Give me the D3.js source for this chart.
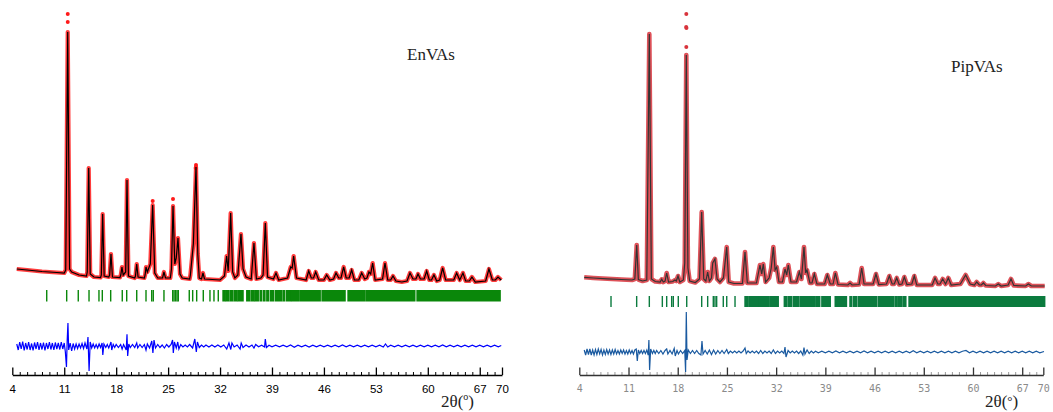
<!DOCTYPE html>
<html>
<head>
<meta charset="utf-8">
<script src="https://cdn.jsdelivr.net/npm/d3@7"></script>
<style>
  body { margin: 0; background: #fff; }
</style>
</head>
<body>
<div id="chart"></div>
<script>
// ---- data (2theta in degrees, intensity in counts) ----
var tickValues = [4, 11, 18, 25, 32, 39, 46, 53, 60, 67, 70];

// EnVAs: calculated profile
var enCalc = [[4.6,150],[6,140],[8,125],[10,115],[11.0,110],[11.2,140],[11.47,2520],[11.72,150],[12.0,120],[13.0,90],[14.0,80],[14.1,120],[14.30,1160],[14.5,100],[15.0,70],[15.9,65],[16.0,90],[16.18,700],[16.38,80],[17.0,70],[17.12,90],[17.30,300],[17.5,70],[18.5,65],[18.62,90],[18.78,170],[18.95,90],[19.28,120],[19.46,1040],[19.65,80],[20.5,60],[20.6,80],[20.77,200],[20.95,70],[21.8,60],[21.9,90],[22.02,170],[22.2,120],[22.6,200],[22.92,790],[23.2,110],[23.6,60],[24.25,60],[24.44,120],[24.65,60],[25.3,60],[25.45,150],[25.66,780],[25.9,200],[26.1,260],[26.33,460],[26.6,100],[26.9,60],[27.9,50],[28.0,90],[28.4,400],[28.76,1170],[29.0,300],[29.2,60],[29.5,50],[29.70,110],[29.9,50],[32.0,40],[32.6,80],[32.89,280],[33.1,130],[33.43,710],[33.7,120],[34.0,60],[34.4,90],[34.82,500],[35.1,150],[35.5,70],[36.2,50],[36.57,410],[36.9,50],[37.5,60],[37.8,90],[38.10,610],[38.4,70],[39.2,50],[39.54,110],[39.9,40],[41.1,60],[41.52,170],[41.72,160],[41.92,280],[42.3,60],[43.6,40],[43.95,130],[44.3,60],[44.6,60],[44.89,120],[45.3,40],[46.0,40],[46.37,90],[46.8,40],[47.3,50],[47.63,110],[48.0,60],[48.3,60],[48.66,170],[49.0,60],[49.4,60],[49.74,140],[50.1,40],[50.7,40],[51.09,110],[51.5,50],[51.8,60],[52.07,120],[52.3,100],[52.57,210],[52.9,40],[53.9,50],[54.23,210],[54.6,40],[55.0,40],[55.31,80],[55.7,30],[56.5,20],[57.2,30],[57.60,110],[58.0,50],[58.4,50],[58.68,100],[59.0,50],[59.5,50],[59.85,130],[60.2,40],[60.5,40],[60.83,90],[61.2,30],[61.6,40],[62.0,160],[62.4,40],[63.5,40],[63.89,110],[64.3,40],[64.74,110],[65.1,30],[65.6,30],[65.95,70],[66.4,20],[67.8,30],[68.24,150],[68.7,40],[69.1,40],[69.46,70],[69.9,40]];
// EnVAs: observed points that stand clear of the calculated line
var enObsTop = [[11.47,2700],[11.47,2620],[22.92,830],[25.66,850],[28.76,1190],[28.72,1160]];
// EnVAs: difference curve
var enDiff = [[4.6,20],[4.8,-40],[5.0,40],[5.2,-30],[5.4,45],[5.6,-45],[5.8,30],[6.0,-35],[6.2,40],[6.4,-40],[6.6,25],[6.8,-45],[7.0,35],[7.2,-30],[7.4,40],[7.6,-40],[7.8,30],[8.0,-35],[8.2,35],[8.4,-45],[8.6,30],[8.8,-30],[9.0,40],[9.2,-35],[9.4,30],[9.6,-40],[9.8,35],[10.0,-30],[10.2,30],[10.4,-35],[10.6,40],[10.8,-30],[11.0,30],[11.15,-60],[11.3,-210],[11.4,60],[11.5,230],[11.6,-40],[11.8,30],[12.0,-50],[12.2,25],[12.4,-30],[12.6,20],[12.8,-25],[13.0,20],[13.2,-20],[13.4,25],[13.6,-25],[13.8,30],[14.05,-30],[14.2,90],[14.35,-250],[14.5,40],[14.7,-20],[14.9,20],[15.1,-20],[15.3,15],[15.5,-20],[15.7,20],[15.9,-15],[16.1,30],[16.2,-90],[16.35,20],[16.6,-15],[16.8,15],[17.0,-20],[17.3,40],[17.4,-40],[17.6,15],[17.8,-15],[18.0,15],[18.3,-15],[18.6,15],[18.8,-30],[19.0,15],[19.35,-40],[19.46,117],[19.55,-100],[19.7,20],[19.9,-15],[20.2,15],[20.5,-15],[20.77,30],[20.9,-20],[21.2,15],[21.5,-15],[21.8,15],[22.02,-40],[22.2,20],[22.5,-20],[22.8,50],[22.95,-70],[23.1,60],[23.3,-20],[23.6,15],[23.9,-15],[24.2,10],[24.5,-20],[24.8,15],[25.1,-10],[25.4,15],[25.6,60],[25.7,-70],[25.85,40],[26.1,-20],[26.3,40],[26.45,-30],[26.7,15],[27.0,-10],[27.3,10],[27.6,-10],[27.9,15],[28.3,-20],[28.6,70],[28.8,-60],[28.95,40],[29.2,-15],[29.5,10],[29.8,-10],[30.1,10],[30.5,-10],[30.9,10],[31.3,-10],[31.7,10],[32.1,-10],[32.5,10],[32.9,-30],[33.2,30],[33.45,-35],[33.6,30],[33.9,-10],[34.3,10],[34.7,-30],[34.85,30],[35.1,-15],[35.5,10],[35.9,-10],[36.3,10],[36.57,-20],[36.8,15],[37.2,-8],[37.6,8],[38.0,-10],[38.1,70],[38.25,-15],[38.6,8],[39.0,-8],[39.5,8],[40.0,-8],[40.5,8],[41.0,-8],[41.5,10],[42.0,-12],[42.5,8],[43.0,-8],[43.5,8],[44.0,-10],[44.5,8],[45.0,-8],[45.5,8],[46.0,-8],[46.5,8],[47.0,-8],[47.5,8],[48.0,-8],[48.5,10],[49.0,-8],[49.5,8],[50.0,-8],[50.5,8],[51.0,-8],[51.5,8],[52.0,-8],[52.5,8],[53.0,-8],[53.5,8],[54.0,-10],[54.3,20],[54.6,-10],[55.0,8],[55.5,-8],[56.0,8],[56.5,-8],[57.0,8],[57.5,-8],[58.0,8],[58.5,-8],[59.0,8],[59.5,-8],[60.0,8],[60.5,-8],[61.0,8],[61.5,-8],[62.0,10],[62.5,-8],[63.0,8],[63.5,-8],[64.0,8],[64.5,-8],[65.0,8],[65.5,-8],[66.0,8],[66.5,-8],[67.0,8],[67.5,-8],[68.0,8],[68.5,-8],[69.0,8],[69.5,-8],[69.9,5]];
// EnVAs: Bragg reflections (single lines and dense groups)
var enRefl = [8.64,11.33,12.89,14.34,15.68,16.13,17.26,18.82,19.42,20.77,22.02,22.79,23.0,24.44,25.62,25.8,26.0,26.2,26.37,27.85,28.31,28.85,29.74,30.64,31.18,31.76];
var enReflGroups = [[32.4,32.7],[32.85,33.2],[33.4,33.7],[33.9,34.3],[34.45,35.1],[35.6,36.0],[36.2,36.6],[36.75,37.15],[37.4,37.6],[37.85,38.05],[38.3,38.55],[38.8,39.2],[39.45,40.3],[40.5,40.7],[40.95,41.5],[41.65,42.55],[42.75,45.5],[45.75,48.85],[49.25,51.55],[51.75,58.25],[58.55,69.75]];

// PipVAs: calculated profile
var pipCalc = [[4.7,107],[6,100],[8,92],[10,85],[11.5,80],[11.9,90],[12.17,430],[12.4,85],[13.0,70],[13.6,80],[13.96,2540],[14.25,90],[14.8,65],[15.5,60],[15.72,87],[15.95,60],[16.2,70],[16.43,150],[16.7,60],[17.3,65],[17.6,80],[17.8,70],[18.04,120],[18.3,60],[18.8,80],[19.0,250],[19.22,2330],[19.45,200],[19.7,70],[20.5,55],[21.1,90],[21.41,760],[21.7,90],[22.0,70],[22.26,160],[22.5,70],[22.8,100],[22.98,250],[23.3,290],[23.6,90],[24.0,60],[24.5,100],[24.97,410],[25.25,60],[26.0,45],[27.2,45],[27.57,360],[27.9,50],[29.2,50],[29.70,230],[29.95,140],[30.17,240],[30.5,60],[31.0,100],[31.3,200],[31.60,410],[31.85,180],[32.08,210],[32.4,60],[32.9,60],[33.26,190],[33.5,130],[33.73,230],[34.1,60],[34.9,60],[35.30,160],[35.6,90],[35.96,410],[36.2,150],[36.39,180],[36.8,50],[37.1,50],[37.43,140],[37.8,40],[38.9,40],[39.28,130],[39.7,40],[40.1,40],[40.42,150],[40.8,35],[42.2,30],[42.51,50],[42.8,30],[43.8,35],[44.17,200],[44.5,40],[45.8,40],[46.20,140],[46.6,35],[47.7,40],[48.10,120],[48.5,40],[48.8,40],[49.15,100],[49.5,35],[49.9,40],[50.23,110],[50.6,35],[51.3,40],[51.65,120],[52.0,30],[54.2,30],[54.60,100],[55.0,40],[55.3,40],[55.69,90],[56.1,40],[56.49,100],[56.9,30],[58.2,40],[58.96,130],[59.6,40],[60.2,30],[60.53,60],[60.9,30],[61.2,30],[61.47,50],[61.8,25],[63.2,20],[63.6,40],[64.0,20],[65.0,30],[65.41,90],[65.8,25],[67.5,20],[67.87,40],[68.3,20],[70.2,20]];
var pipObsTop = [[19.22,2740],[19.2,2610],[19.24,2600],[19.22,2410]];
var pipDiff = [[4.7,20],[4.9,-30],[5.1,30],[5.3,-25],[5.5,30],[5.7,-30],[5.9,20],[6.1,-30],[6.3,25],[6.5,-25],[6.7,30],[6.9,-20],[7.1,25],[7.3,-30],[7.5,20],[7.7,-25],[7.9,25],[8.1,-20],[8.3,20],[8.5,-25],[8.7,20],[8.9,-20],[9.1,25],[9.3,-20],[9.5,15],[9.7,-20],[9.9,20],[10.1,-15],[10.3,20],[10.5,-20],[10.7,15],[10.9,-20],[11.1,20],[11.3,-15],[11.5,15],[11.7,-20],[11.9,20],[12.1,30],[12.25,-90],[12.4,20],[12.6,-15],[12.8,15],[13.0,-15],[13.2,15],[13.4,-15],[13.6,20],[13.8,-30],[13.9,120],[14.0,-180],[14.15,30],[14.4,-15],[14.6,15],[14.8,-15],[15.0,15],[15.3,-15],[15.6,15],[15.9,-20],[16.2,15],[16.43,30],[16.6,-20],[16.9,15],[17.2,-20],[17.5,35],[17.65,-40],[17.9,15],[18.1,-20],[18.4,15],[18.7,-15],[19.0,15],[19.12,-200],[19.22,400],[19.32,-80],[19.5,20],[19.8,-15],[20.1,15],[20.4,-15],[20.7,15],[21.0,-15],[21.3,-30],[21.45,110],[21.6,-20],[21.9,15],[22.2,-20],[22.5,20],[22.8,-25],[23.1,20],[23.4,-20],[23.7,15],[24.0,-15],[24.3,15],[24.6,-15],[24.97,25],[25.2,-15],[25.5,10],[25.8,-10],[26.1,10],[26.4,-10],[26.7,10],[27.0,-10],[27.3,10],[27.57,40],[27.75,-15],[28.0,10],[28.3,-10],[28.6,10],[28.9,-10],[29.2,10],[29.5,-15],[29.8,15],[30.1,-15],[30.4,10],[30.7,-10],[31.0,10],[31.3,-15],[31.6,20],[31.9,-15],[32.2,10],[32.5,-10],[32.8,10],[33.1,-15],[33.26,50],[33.4,-50],[33.7,15],[34.0,-10],[34.3,10],[34.6,-10],[34.9,10],[35.2,-15],[35.5,10],[35.8,-30],[35.96,45],[36.1,-20],[36.4,20],[36.7,-15],[37.0,10],[37.3,-10],[37.6,8],[38.0,-8],[38.5,8],[39.0,-8],[39.5,8],[40.0,-8],[40.5,10],[41.0,-8],[41.5,8],[42.0,-8],[42.5,8],[43.0,-8],[43.5,8],[44.0,-8],[44.5,10],[45.0,-8],[45.5,8],[46.0,-8],[46.5,8],[47.0,-8],[47.5,8],[48.0,-8],[48.5,8],[49.0,-8],[49.5,8],[50.0,-8],[50.5,8],[51.0,-8],[51.5,12],[52.0,-8],[52.5,8],[53.0,-8],[53.5,8],[54.0,-8],[54.5,8],[55.0,-8],[55.5,8],[56.0,-8],[56.5,8],[57.0,-8],[57.5,8],[58.0,-8],[58.5,8],[59.0,15],[59.5,-8],[60.0,8],[60.5,-8],[61.0,8],[61.5,-8],[62.0,8],[62.5,-8],[63.0,8],[63.5,-8],[64.0,8],[64.5,-8],[65.0,8],[65.5,-8],[66.0,8],[66.5,-8],[67.0,8],[67.5,-8],[68.0,8],[68.5,-8],[69.0,8],[69.5,-8],[70.1,5]];
var pipRefl = [8.51,12.16,13.96,15.81,16.43,17.14,17.37,18.08,19.28,21.41,22.26,23.06,23.3,23.54,24.48,24.97,26.15];
var pipReflGroups = [[27.57,28.0],[28.15,29.5],[29.65,31.0],[31.15,32.3],[33.16,33.5],[33.7,34.2],[34.44,35.2],[35.4,37.55],[37.72,38.2],[38.5,39.7],[40.4,42.0],[42.5,42.75],[43.0,43.46],[43.69,46.3],[46.53,48.67],[48.9,49.1],[49.3,49.9],[50.1,50.45],[50.9,70.2]];

var W = 1053, H = 412;
var svg = d3.select("#chart").append("svg")
    .attr("width", W)
    .attr("height", H)
    .style("background-color", "white");

function drawPanel(p) {
    var x = d3.scaleLinear().domain([4, 70]).range(p.xr);
    var y = d3.scaleLinear().domain([0, p.ymax]).range([p.base, 14]);
    var yd = d3.scaleLinear().domain([0, p.ymax]).range([p.diffBase, p.diffBase - (p.base - 14)]);
    var g = svg.append("g");

    var line = d3.line().x(function(d){ return x(d[0]); }).y(function(d){ return y(d[1]); });

    // observed (red band of dots)
    g.append("path")
        .datum(p.calc)
        .attr("d", line)
        .attr("fill", "none")
        .attr("stroke", p.obsColor)
        .attr("stroke-width", p.obsWidth)
        .attr("stroke-linejoin", "round")
        .attr("stroke-opacity", 0.85);

    g.selectAll("circle.obs")
        .data(p.obsTop)
        .enter()
        .append("circle")
        .attr("class", "obs")
        .attr("cx", function(d){ return x(d[0]); })
        .attr("cy", function(d){ return y(d[1]); })
        .attr("r", 2)
        .attr("fill", p.obsColor);

    // calculated
    g.append("path")
        .datum(p.calc)
        .attr("d", line)
        .attr("fill", "none")
        .attr("stroke", p.calcColor)
        .attr("stroke-width", 1.2);

    // Bragg positions
    g.selectAll("rect.refl")
        .data(p.refl)
        .enter()
        .append("rect")
        .attr("class", "refl")
        .attr("x", function(d){ return x(d) - 0.7; })
        .attr("y", p.reflY[0])
        .attr("width", 1.4)
        .attr("height", p.reflY[1] - p.reflY[0])
        .attr("fill", p.reflColor);

    g.selectAll("rect.reflg")
        .data(p.reflGroups)
        .enter()
        .append("rect")
        .attr("class", "reflg")
        .attr("x", function(d){ return x(d[0]) - 0.7; })
        .attr("y", p.reflY[0])
        .attr("width", function(d){ return x(d[1]) - x(d[0]) + 1.4; })
        .attr("height", p.reflY[1] - p.reflY[0])
        .attr("fill", p.reflColor);

    // difference
    g.append("path")
        .datum(p.diff)
        .attr("d", d3.line().x(function(d){ return x(d[0]); }).y(function(d){ return yd(d[1]); }))
        .attr("fill", "none")
        .attr("stroke", p.diffColor)
        .attr("stroke-width", 1.2);

    // axis: minor ticks every degree, major ticks at the labels
    var minor = d3.range(4, 71).filter(function(v){ return tickValues.indexOf(v) < 0; });
    g.append("g")
        .attr("transform", "translate(0," + p.axisY + ")")
        .call(d3.axisBottom(x).tickValues(minor).tickSizeInner(-3).tickSizeOuter(0).tickFormat(""))
        .call(function(a){
            a.select(".domain").remove();
            a.selectAll("line").attr("stroke", p.minorColor);
        });
    var ax = g.append("g")
        .attr("transform", "translate(0," + p.axisY + ")")
        .call(d3.axisBottom(x).tickValues(tickValues).tickSizeInner(-7.5).tickSizeOuter(0).tickPadding(10));
    ax.select(".domain").attr("stroke", p.axisColor).attr("stroke-width", 1.3);
    ax.selectAll("line").attr("stroke", p.axisColor).attr("stroke-width", 1.3);
    ax.selectAll("text")
        .attr("fill", p.labelColor)
        .style("font-family", p.labelFont)
        .style("font-size", p.labelSize + "px");

    // axis title 2θ(°)
    var t = g.append("text")
        .attr("x", p.titleX)
        .attr("y", 407)
        .attr("fill", "#222")
        .style("font-family", "'Liberation Serif', serif")
        .style("font-size", "17px");
    t.append("tspan").text("2θ(");
    t.append("tspan").text(p.degree).attr("dy", p.degreeShift).style("font-size", p.degreeSize);
    t.append("tspan").text(")").attr("dy", -p.degreeShift);

    // sample name
    g.append("text")
        .attr("x", p.nameX)
        .attr("y", p.nameY)
        .attr("fill", "#222")
        .style("font-family", "'Liberation Serif', serif")
        .style("font-size", "17px")
        .text(p.name);
}

drawPanel({
    xr: [12.3, 502], ymax: 2700, base: 284, diffBase: 346, axisY: 375,
    calc: enCalc, obsTop: enObsTop, diff: enDiff, refl: enRefl, reflGroups: enReflGroups,
    reflY: [290, 301.5], obsWidth: 4.2,
    obsColor: "#ff1a1a", calcColor: "#000", reflColor: "#0a870a", diffColor: "#0000ff",
    axisColor: "#000", minorColor: "#000", labelColor: "#000",
    labelFont: "'Liberation Sans', Arial, sans-serif", labelSize: 11.5,
    titleX: 441, degree: "o", degreeShift: -7, degreeSize: "10px",
    name: "EnVAs", nameX: 407, nameY: 60
});

drawPanel({
    xr: [579.3, 1043.3], ymax: 2740, base: 288, diffBase: 352, axisY: 375,
    calc: pipCalc, obsTop: pipObsTop, diff: pipDiff, refl: pipRefl, reflGroups: pipReflGroups,
    reflY: [296, 307], obsWidth: 4.6,
    obsColor: "#d8343c", calcColor: "#333", reflColor: "#0b7b3e", diffColor: "#1a5aa0",
    axisColor: "#333", minorColor: "#999", labelColor: "#8a8a8a",
    labelFont: "'DejaVu Sans Mono', monospace", labelSize: 10,
    titleX: 985, degree: "°", degreeShift: -2, degreeSize: "13px",
    name: "PipVAs", nameX: 951, nameY: 72
});
</script>
</body>
</html>
